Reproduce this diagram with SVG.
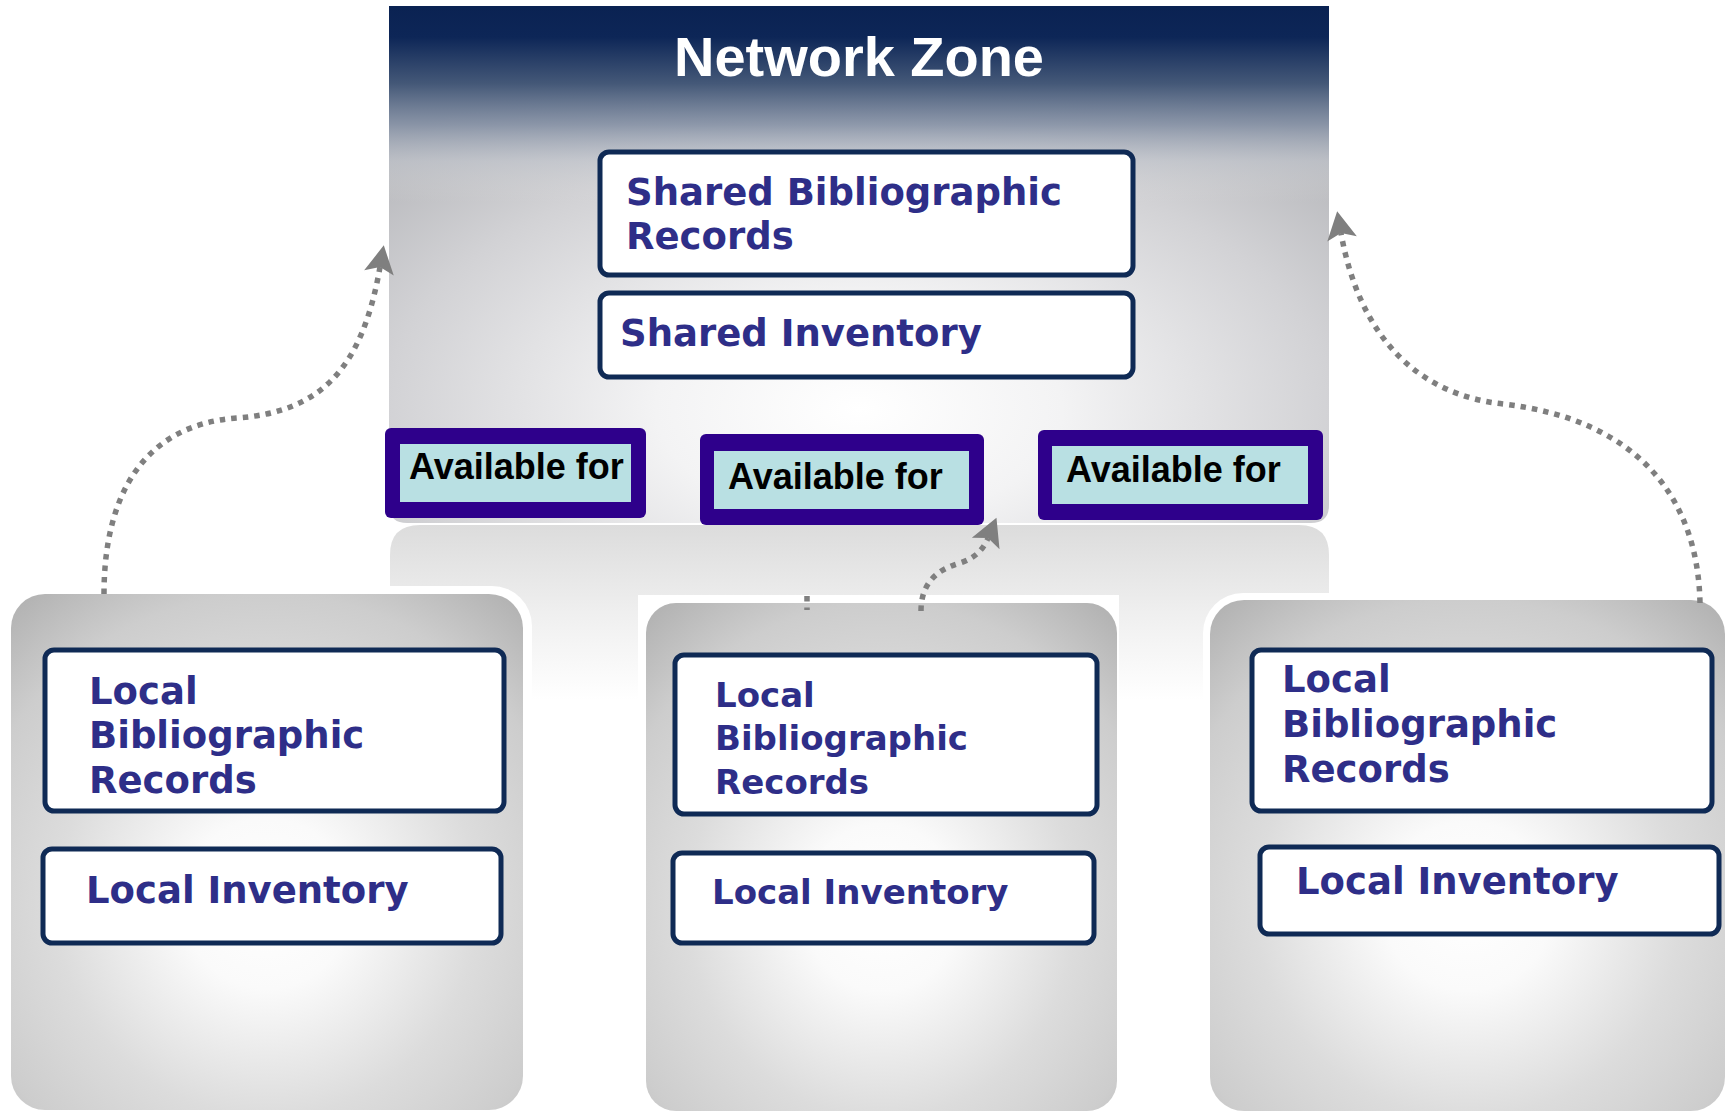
<svg xmlns="http://www.w3.org/2000/svg" width="1727" height="1113" viewBox="0 0 1727 1113">
<defs>
<radialGradient id="nzRad" cx="0.5" cy="0.78" r="0.72">
<stop offset="0" stop-color="#ffffff"/>
<stop offset="0.3" stop-color="#f3f3f4"/>
<stop offset="0.7" stop-color="#d2d2d5"/>
<stop offset="1" stop-color="#b3b4b8"/>
</radialGradient>
<linearGradient id="nzTop" x1="0" y1="0" x2="0" y2="1">
<stop offset="0" stop-color="#0a2252" stop-opacity="1"/>
<stop offset="0.06" stop-color="#0d2657" stop-opacity="1"/>
<stop offset="0.15" stop-color="#3e5374" stop-opacity="0.95"/>
<stop offset="0.23" stop-color="#7f8ca2" stop-opacity="0.8"/>
<stop offset="0.3" stop-color="#c0c5ce" stop-opacity="0.5"/>
<stop offset="0.38" stop-color="#e0e0e0" stop-opacity="0"/>
</linearGradient>
<linearGradient id="lowFade" x1="0" y1="0" x2="0" y2="1">
<stop offset="0" stop-color="#dcdcdc"/>
<stop offset="0.5" stop-color="#efefef"/>
<stop offset="1" stop-color="#ffffff"/>
</linearGradient>
<radialGradient id="locRad" cx="0.5" cy="0.6" r="0.75">
<stop offset="0" stop-color="#ffffff"/>
<stop offset="0.22" stop-color="#fafafa"/>
<stop offset="0.55" stop-color="#dcdcdc"/>
<stop offset="0.8" stop-color="#cdcdcd"/>
<stop offset="1" stop-color="#b4b4b4"/>
</radialGradient>
<marker id="arr" viewBox="-2 -17 34 34" markerWidth="34" markerHeight="34" refX="6" refY="0" orient="auto" markerUnits="userSpaceOnUse">
<path d="M0,-15 L28,0 L0,15 L6,0 Z" fill="#7f7f7f"/>
</marker>
<style>
.inner{fill:#ffffff;stroke:#0f2a55;stroke-width:5}
.lbl{font-family:"DejaVu Sans","Verdana",sans-serif;font-weight:bold;fill:#2e2e88}
.avo{fill:#2e008b}
.avi{fill:#b9e0e3}
.av{font-family:"Liberation Sans","Arial",sans-serif;font-weight:bold;font-size:36px;fill:#000000}
.con{fill:none;stroke:#7f7f7f;stroke-width:5.5;stroke-dasharray:5.5 6}
</style>
</defs>
<rect width="1727" height="1113" fill="#ffffff"/>

<g id="network-zone">
<path d="M390,700 V555 Q390,525 420,525 H1299 Q1329,525 1329,555 V700 Z" fill="url(#lowFade)"/>
<path d="M389,6 H1329 V505 Q1329,523 1311,523 H407 Q389,523 389,505 Z" fill="url(#nzRad)"/>
<path d="M389,6 H1329 V505 Q1329,523 1311,523 H407 Q389,523 389,505 Z" fill="url(#nzTop)"/>
<text x="859" y="76" text-anchor="middle" font-family="Liberation Sans, Arial, sans-serif" font-weight="bold" font-size="55" fill="#ffffff" textLength="370" lengthAdjust="spacingAndGlyphs">Network Zone</text>
</g>

<g id="shared-bib">
<rect class="inner" x="600" y="152" width="533" height="123" rx="9"/>
<text class="lbl" font-size="37" x="626" y="205">Shared Bibliographic</text>
<text class="lbl" font-size="37" x="626" y="249">Records</text>
</g>

<g id="shared-inv">
<rect class="inner" x="600" y="293" width="533" height="84" rx="9"/>
<text class="lbl" font-size="37" x="620" y="346">Shared Inventory</text>
</g>

<g id="avail-1">
<rect class="avo" x="385" y="428" width="261" height="90" rx="6"/>
<rect class="avi" x="400" y="444" width="231" height="58"/>
<text class="av" x="409" y="479">Available for</text>
</g>
<g id="avail-2">
<rect class="avo" x="700" y="434" width="284" height="91" rx="6"/>
<rect class="avi" x="714" y="451" width="255" height="58"/>
<text class="av" x="728" y="489">Available for</text>
</g>
<g id="avail-3">
<rect class="avo" x="1038" y="430" width="285" height="90" rx="6"/>
<rect class="avi" x="1052" y="446" width="256" height="58"/>
<text class="av" x="1066" y="482">Available for</text>
</g>

<g id="local-left">
<rect x="4" y="586" width="528" height="540" rx="40" fill="#ffffff"/>
<rect x="11" y="594" width="512" height="516" rx="34" fill="url(#locRad)"/>
<rect class="inner" x="45" y="650" width="459" height="161" rx="9"/>
<text class="lbl" font-size="37" x="89" y="704">Local</text>
<text class="lbl" font-size="37" x="89" y="748">Bibliographic</text>
<text class="lbl" font-size="37" x="89" y="793">Records</text>
<rect class="inner" x="43" y="849" width="458" height="94" rx="9"/>
<text class="lbl" font-size="37" x="86" y="903">Local Inventory</text>
</g>

<g id="local-middle">
<rect x="638" y="595" width="481" height="518" fill="#ffffff"/>
<rect x="646" y="603" width="471" height="508" rx="30" fill="url(#locRad)"/>
<rect class="inner" x="675" y="655" width="422" height="159" rx="9"/>
<text class="lbl" font-size="34" x="715" y="707">Local</text>
<text class="lbl" font-size="34" x="715" y="750">Bibliographic</text>
<text class="lbl" font-size="34" x="715" y="794">Records</text>
<rect class="inner" x="673" y="853" width="421" height="90" rx="9"/>
<text class="lbl" font-size="34" x="712" y="904">Local Inventory</text>
</g>

<g id="local-right">
<rect x="1203" y="593" width="540" height="540" rx="40" fill="#ffffff"/>
<rect x="1210" y="600" width="515" height="511" rx="34" fill="url(#locRad)"/>
<rect class="inner" x="1252" y="650" width="460" height="161" rx="9"/>
<text class="lbl" font-size="37" x="1282" y="692">Local</text>
<text class="lbl" font-size="37" x="1282" y="737">Bibliographic</text>
<text class="lbl" font-size="37" x="1282" y="782">Records</text>
<rect class="inner" x="1260" y="847" width="459" height="87" rx="9"/>
<text class="lbl" font-size="37" x="1296" y="894">Local Inventory</text>
</g>

<g id="connectors">
<path class="con" d="M104,594 C104,500 140,425 237,418 C320,412 362,370 380,267" marker-end="url(#arr)"/>
<path class="con" d="M1700,603 C1698,500 1640,420 1503,404 C1420,395 1360,340 1341,233" marker-end="url(#arr)"/>
<path class="con" d="M921,611 C921,585 935,570 960,563 C975,558 983,550 988,538" marker-end="url(#arr)"/>
<path class="con" d="M807,596 V610"/>
</g>
</svg>
